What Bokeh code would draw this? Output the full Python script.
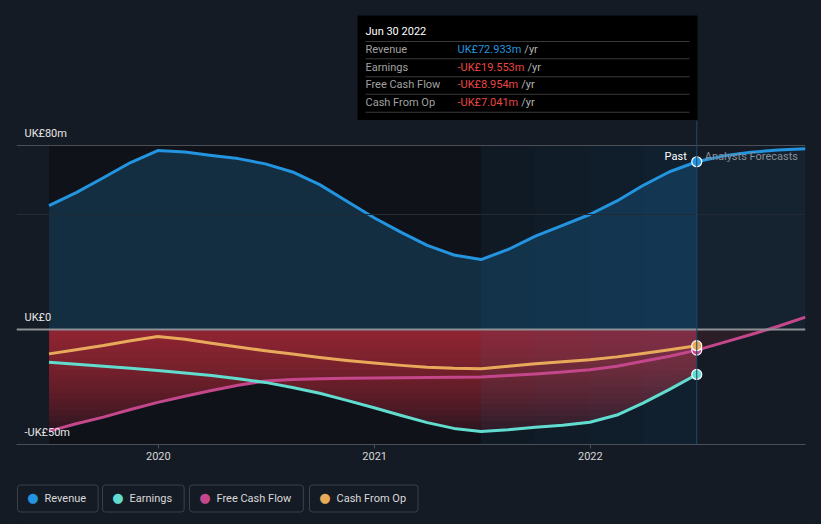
import numpy as np
import pandas as pd
from bokeh.plotting import figure
from bokeh.layouts import column
from bokeh.models import Range1d, Span, Label, BoxAnnotation, FixedTicker, DatetimeTickFormatter
from bokeh.embed import file_html
from bokeh.resources import INLINE

# ---------------- data (UK£ m) ----------------
past_dates = ["2019-06-30", "2019-08-15", "2019-09-30", "2019-11-15", "2019-12-31",
              "2020-02-15", "2020-03-31", "2020-05-15", "2020-06-30", "2020-08-15",
              "2020-09-30", "2020-11-15", "2020-12-31", "2021-02-15", "2021-03-31",
              "2021-05-15", "2021-06-30", "2021-08-15", "2021-09-30", "2021-11-15",
              "2021-12-31", "2022-02-15", "2022-03-31", "2022-05-15", "2022-06-30"]
revenue = [53.9, 59.5, 66.0, 72.6, 77.8, 77.2, 75.7, 74.3, 72.0, 68.5,
           63.0, 55.8, 48.6, 42.2, 36.6, 32.4, 30.4, 34.8, 40.6, 45.3,
           50.0, 55.9, 62.6, 68.6, 72.933]
earnings = [-14.2, -15.1, -16.0, -16.9, -17.8, -18.9, -20.0, -21.4, -23.0, -25.2,
            -27.7, -30.8, -34.0, -37.4, -40.5, -43.0, -44.3, -43.6, -42.5, -41.6,
            -40.3, -37.2, -32.0, -26.0, -19.553]
free_cash_flow = [-44.2, -41.0, -38.1, -34.8, -31.7, -29.0, -26.5, -24.2, -22.4, -21.7,
                  -21.4, -21.2, -21.1, -21.0, -20.9, -20.8, -20.7, -20.0, -19.3, -18.5,
                  -17.5, -16.0, -13.8, -11.6, -8.954]
cash_from_op = [-10.6, -8.8, -7.0, -4.9, -3.0, -4.2, -6.0, -7.6, -9.2, -10.7,
                -12.2, -13.5, -14.6, -15.6, -16.4, -16.9, -17.1, -16.0, -14.9, -14.0,
                -13.2, -11.9, -10.4, -8.8, -7.041]

forecast_dates = ["2022-06-30", "2022-08-15", "2022-09-30", "2022-11-15", "2022-12-31"]
revenue_forecast = [72.933, 75.5, 77.1, 78.0, 78.6]
fcf_forecast = [-8.954, -5.6, -2.2, 1.4, 5.4]

highlight_start = "2021-06-30"
x_window = ["2019-05-06", "2022-12-31"]
x_tick_dates = ["2020-01-01", "2021-01-01", "2022-01-01"]
x_tick_labels = ["2020", "2021", "2022"]
y_ticks = [-50, 0, 80]
y_tick_labels = ["-UK£50m", "UK£0", "UK£80m"]
y_faint = [50]
tooltip_date = "Jun 30 2022"
series_names = ["Revenue", "Earnings", "Free Cash Flow", "Cash From Op"]

# ---------------- style ----------------
BG = "#151b24"
PAST_BG = "#0f1319"
C_REV = "#2394df"
C_EARN = "#62dccf"
C_FCF = "#c4478c"
C_CFO = "#e8aa5a"
RED = "#d23b40"
FONT = "Roboto"
series_colors = [C_REV, C_EARN, C_FCF, C_CFO]

pdates = pd.to_datetime(past_dates)
fdates = pd.to_datetime(forecast_dates)
n = len(pdates)

W = 821
FRAME_L, FRAME_R = 16, 805          # page x of plot frame
TOP_H = 120                          # header (tooltip) strip
MAIN_TOP, MAIN_BOT = 120, 444        # page y of main frame
GRID_TOP = 145                       # page y of top gridline
AXIS_H = 30
LEG_H = 524 - MAIN_BOT - AXIS_H

x_range = Range1d(pd.Timestamp(x_window[0]), pd.Timestamp(x_window[1]))
px_per_unit = (MAIN_BOT - GRID_TOP) / (y_ticks[-1] - y_ticks[0])
y_top = y_ticks[-1] + (GRID_TOP - MAIN_TOP) / px_per_unit


def base_fig(height, y_range, bottom=0):
    f = figure(width=W, height=height, x_axis_type="datetime", x_range=x_range, y_range=y_range,
               y_axis_location=None, x_axis_location=("below" if bottom else None),
               output_backend="svg", toolbar_location=None, title=None,
               min_border_left=FRAME_L, min_border_right=W - FRAME_R,
               min_border_top=0, min_border_bottom=bottom,
               background_fill_color=BG, border_fill_color=BG, outline_line_color=None)
    f.outline_line_color = None
    f.grid.visible = False
    return f


# ================= main chart =================
p = base_fig(MAIN_BOT - MAIN_TOP + AXIS_H, Range1d(y_ticks[0], y_top), bottom=AXIS_H)

p.quad(left=[pdates[0]], right=[pdates[-1]], bottom=[y_ticks[0]], top=[y_ticks[-1]],
       fill_color=PAST_BG, line_color=None)

p.varea(x=pdates, y1=np.zeros(n), y2=revenue, fill_color=C_REV, fill_alpha=0.2)
p.varea(x=fdates, y1=np.zeros(len(fdates)), y2=revenue_forecast, fill_color=C_REV, fill_alpha=0.07)

neg_floor = np.minimum.reduce([np.array(earnings), np.array(free_cash_flow), np.array(cash_from_op)])
steps = 20
for k in range(1, steps + 1):
    depth = y_ticks[0] * k / steps
    p.varea(x=pdates, y1=np.zeros(n), y2=np.maximum(neg_floor, depth),
            fill_color=RED, fill_alpha=0.06)
p.varea(x=fdates, y1=np.zeros(len(fdates)), y2=np.minimum(np.array(fcf_forecast), 0),
        fill_color=RED, fill_alpha=0.12)

hl = pd.Timestamp(highlight_start)
p.quad(left=[hl], right=[pdates[-1]], bottom=[y_ticks[0]], top=[y_ticks[-1]],
       fill_color=C_REV, fill_alpha=0.06, line_color=None)
for d in pd.date_range(hl, pdates[-1], periods=5)[1:-1]:
    p.quad(left=[d], right=[pdates[-1]], bottom=[y_ticks[0]], top=[y_ticks[-1]],
           fill_color=C_REV, fill_alpha=0.025, line_color=None)

p.add_layout(Span(location=y_ticks[-1], dimension="width", line_color="#4a4f57", line_width=1))
for v in y_faint:
    p.add_layout(Span(location=v, dimension="width", line_color="#242a33", line_width=1))
p.add_layout(Span(location=0, dimension="width", line_color="#8e9196", line_width=2))
p.add_layout(Span(location=pdates[-1], dimension="height", line_color="#1d4a6e", line_width=1))

p.line(fdates, fcf_forecast, line_color=C_FCF, line_width=3, line_join="round")
p.line(fdates, revenue_forecast, line_color=C_REV, line_width=3, line_join="round")
p.line(pdates, free_cash_flow, line_color=C_FCF, line_width=3, line_join="round")
p.line(pdates, earnings, line_color=C_EARN, line_width=3, line_join="round")
p.line(pdates, cash_from_op, line_color=C_CFO, line_width=3, line_join="round")
p.line(pdates, revenue, line_color=C_REV, line_width=3, line_join="round")

for arr, col in [(earnings, C_EARN), (free_cash_flow, C_FCF), (cash_from_op, C_CFO), (revenue, C_REV)]:
    p.scatter(x=[pdates[-1]], y=[arr[-1]], size=10, fill_color=col, line_color="white", line_width=1.2)

p.xaxis.ticker = FixedTicker(ticks=[pd.Timestamp(d).value / 1e6 for d in x_tick_dates])
p.xaxis.formatter = DatetimeTickFormatter(years="%Y", months="%Y", days="%Y", hours="%Y")
p.xaxis.axis_line_color = "#4a4f57"
p.xaxis.major_tick_line_color = "#4a4f57"
p.xaxis.major_tick_out = 4
p.xaxis.major_tick_in = 0
p.xaxis.minor_tick_line_color = None
p.xaxis.major_label_text_color = "#d6d6d6"
p.xaxis.major_label_text_font = FONT
p.xaxis.major_label_text_font_size = "11px"
p.xaxis.major_label_standoff = 3

for v, t in zip(y_ticks, y_tick_labels):
    p.add_layout(Label(x=24 - FRAME_L, x_units="screen", y=v, y_units="data", y_offset=12, text=t,
                       text_font=FONT, text_font_size="11px", text_color="#e6e6e6",
                       text_baseline="middle", text_align="left"))

p.add_layout(Label(x=pdates[-1], y=y_ticks[-1], y_offset=-11, x_offset=-10, text="Past",
                   text_font=FONT, text_font_size="11px", text_color="#ffffff",
                   text_align="right", text_baseline="middle"))
p.add_layout(Label(x=pdates[-1], y=y_ticks[-1], y_offset=-11, x_offset=8, text="Analysts Forecasts",
                   text_font=FONT, text_font_size="11px", text_color="#8a8f97",
                   text_align="left", text_baseline="middle"))

# ================= header strip with tooltip =================
top = base_fig(TOP_H, Range1d(TOP_H, 0))   # flipped: data y == page y


def sx(px):
    return px - FRAME_L


top.add_layout(BoxAnnotation(left=sx(357), right=sx(697), top=15, bottom=120,
                             left_units="screen", right_units="screen",
                             fill_color="#000000", fill_alpha=1.0, line_color=None))
for ly in [41, 58.3, 76.3, 93.7, 111.7]:
    top.add_layout(BoxAnnotation(left=sx(365), right=sx(689), top=ly - 0.5, bottom=ly + 0.5,
                                 left_units="screen", right_units="screen",
                                 fill_color="#3a3a3a", fill_alpha=1.0, line_color=None))
top.add_layout(Label(x=sx(365), y=31, x_units="screen", text=tooltip_date,
                     text_font=FONT, text_font_size="11px", text_color="#ffffff",
                     text_baseline="middle", text_align="left"))

CW = {"U": 0.65, "K": 0.63, "£": 0.58, "m": 0.875, "-": 0.28, ".": 0.26}


def text_w(s, size=11):
    return sum(CW.get(c, 0.562) for c in s) * size


last_vals = [revenue[-1], earnings[-1], free_cash_flow[-1], cash_from_op[-1]]
row_y = [49.3, 66.7, 84.3, 101.7]
for name, v, ry in zip(series_names, last_vals, row_y):
    vt = ("-" if v < 0 else "") + "UK£" + f"{abs(v):.3f}" + "m"
    top.add_layout(Label(x=sx(365), y=ry, x_units="screen", text=name,
                         text_font=FONT, text_font_size="11px", text_color="#a0a0a0",
                         text_baseline="middle", text_align="left"))
    top.add_layout(Label(x=sx(457), y=ry, x_units="screen", text=vt,
                         text_font=FONT, text_font_size="11px",
                         text_color=(C_REV if v >= 0 else "#ea4646"),
                         text_baseline="middle", text_align="left"))
    top.add_layout(Label(x=sx(457) + text_w(vt) + 3, y=ry, x_units="screen",
                         text="/yr", text_font=FONT, text_font_size="11px", text_color="#b3b3b3",
                         text_baseline="middle", text_align="left"))

# ================= legend strip =================
leg_top = MAIN_BOT + AXIS_H
leg = base_fig(LEG_H, Range1d(524, leg_top))   # flipped: data y == page y
legend_box_left = [17, 102, 189, 309]
for name, col, bx in zip(series_names, series_colors, legend_box_left):
    leg.add_layout(Label(x=sx(bx), y=498, x_units="screen", text=name,
                         text_font=FONT, text_font_size="11px", text_color="#d9d9d9",
                         text_baseline="middle", text_align="left",
                         padding=dict(left=27, right=12, top=7, bottom=7),
                         border_line_color="#3b414b", border_line_width=1, border_radius=3))
    leg.add_layout(Label(x=sx(bx + 15.5), y=497, x_units="screen", text="●",
                         text_font="DejaVu Sans", text_font_size="13px", text_color=col,
                         text_baseline="middle", text_align="center"))

layout = column(top, p, leg, spacing=0)
html = file_html(layout, INLINE)
html = html.replace("</head>",
                    "<style>html, body { background-color: #151b24 !important; }</style></head>", 1)
open("out.html", "w").write(html)
